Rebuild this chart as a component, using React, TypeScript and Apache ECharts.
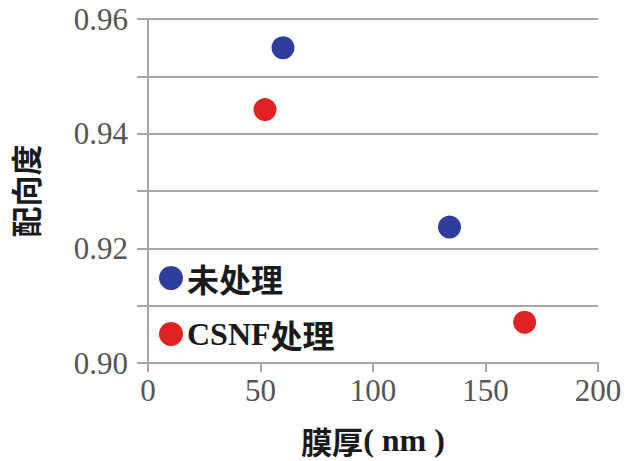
import React, { useEffect, useRef } from "react";
import * as echarts from "echarts";

const untreatedName = "未处理";
const treatedName = "CSNF处理";
const untreatedThickness = [60, 134];
const untreatedOrientation = [0.955, 0.9237];
const treatedThickness = [52, 167.4];
const treatedOrientation = [0.9442, 0.9071];
const xTicks = [0, 50, 100, 150, 200];
const yTicks = [0.9, 0.91, 0.92, 0.93, 0.94, 0.95, 0.96];

const SERIF = "'Liberation Serif', 'DejaVu Serif', serif";
const CJK = "'Noto Sans CJK SC', sans-serif";

export default function App() {
  const ref = useRef<HTMLDivElement>(null);
  useEffect(() => {
    if (!ref.current) return;
    const chart = echarts.init(ref.current, undefined, { renderer: "svg" });
    const pair = (xs: number[], ys: number[]) => xs.map((x, i) => [x, ys[i]]);
    chart.setOption({
      animation: false,
      backgroundColor: "#ffffff",
      grid: { left: 148, right: 33, top: 19, bottom: 97, containLabel: false },
      xAxis: {
        type: "value",
        min: xTicks[0],
        max: xTicks[xTicks.length - 1],
        interval: 50,
        name: "{a|膜厚}{b|( nm )}",
        nameLocation: "middle",
        nameGap: 61,
        nameTextStyle: {
          rich: {
            a: { fontFamily: CJK, fontWeight: "bold", fontSize: 31, color: "#1a1a1a" },
            b: { fontFamily: SERIF, fontWeight: "bold", fontSize: 32, color: "#1a1a1a" },
          },
        },
        axisLine: { show: true, lineStyle: { color: "#a6a6a6", width: 2 } },
        axisTick: { show: true, length: 9, lineStyle: { color: "#a6a6a6", width: 2 } },
        splitLine: { show: false },
        axisLabel: { fontFamily: SERIF, fontSize: 31, color: "#555", margin: 12 },
      },
      yAxis: {
        type: "value",
        min: yTicks[0],
        max: yTicks[yTicks.length - 1],
        interval: 0.01,
        name: "配向度",
        nameLocation: "middle",
        nameGap: 108,
        nameRotate: 90,
        nameTextStyle: { fontFamily: CJK, fontWeight: "bold", fontSize: 31, color: "#1a1a1a" },
        axisLine: { show: true, lineStyle: { color: "#a6a6a6", width: 2 } },
        axisTick: { show: true, length: 11, lineStyle: { color: "#a6a6a6", width: 2 } },
        splitLine: { show: true, lineStyle: { color: "#a6a6a6", width: 2 } },
        axisLabel: {
          fontFamily: SERIF,
          fontSize: 31,
          color: "#555",
          margin: 20,
          formatter: (v: number) => (Math.round(v * 100) % 2 === 0 ? v.toFixed(2) : ""),
        },
      },
      legend: {
        left: 154,
        top: 257,
        orient: "vertical",
        icon: "circle",
        itemWidth: 24,
        itemHeight: 24,
        itemGap: 24,
        data: [untreatedName, treatedName],
        formatter: (name: string) =>
          name === treatedName ? "{s|CSNF}{c|处理}" : "{c|" + name + "}",
        textStyle: {
          padding: [0, 0, 0, -1],
          rich: {
            s: { fontFamily: SERIF, fontWeight: "bold", fontSize: 32, color: "#1a1a1a", lineHeight: 30 },
            c: { fontFamily: CJK, fontWeight: "bold", fontSize: 32, color: "#1a1a1a", lineHeight: 30 },
          },
        },
      },
      series: [
        {
          name: untreatedName,
          type: "scatter",
          symbol: "circle",
          symbolSize: 23,
          itemStyle: { color: "#2e3d9c", opacity: 1 },
          data: pair(untreatedThickness, untreatedOrientation),
        },
        {
          name: treatedName,
          type: "scatter",
          symbol: "circle",
          symbolSize: 23,
          itemStyle: { color: "#e02222", opacity: 1 },
          data: pair(treatedThickness, treatedOrientation),
        },
      ],
    });
    return () => chart.dispose();
  }, []);
  return (
    <div
      ref={ref}
      style={{ position: "absolute", left: 0, top: 0, width: 631, height: 461 }}
    />
  );
}
